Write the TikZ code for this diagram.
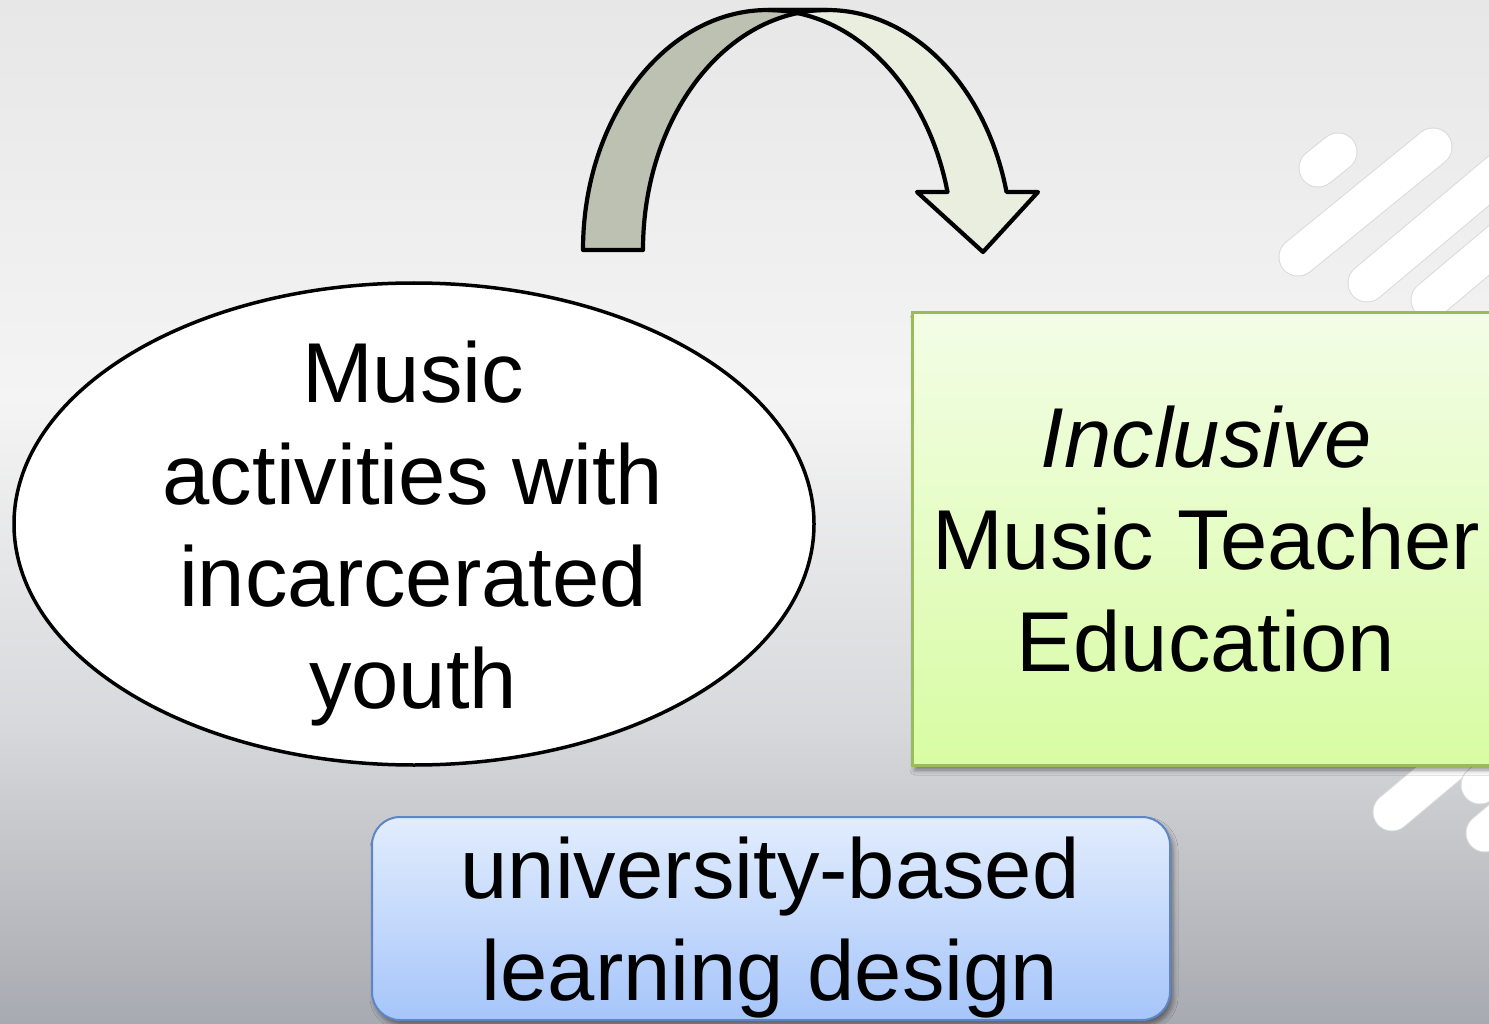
\documentclass[tikz,border=0pt]{standalone}
\usepackage{fontspec}
\setmainfont{Liberation Sans}
\usetikzlibrary{shapes.geometric,shadows.blur}
\definecolor{bgtop}{HTML}{E7E7E7}
\definecolor{bgmid}{HTML}{F4F4F4}
\definecolor{bglow}{HTML}{D8D9DC}
\definecolor{bgbot}{HTML}{A7AAB0}
\definecolor{darkband}{HTML}{BDC1B1}
\definecolor{lightband}{HTML}{EAEEDF}
\definecolor{greentop}{HTML}{F3FDE6}
\definecolor{greenbot}{HTML}{D8FCA3}
\definecolor{greenline}{HTML}{9BBB59}
\definecolor{bluetop}{HTML}{E2EDFD}
\definecolor{bluebot}{HTML}{A6C5FA}
\definecolor{blueline}{HTML}{5E86C6}
\definecolor{stripeedge}{HTML}{DADADA}
\begin{document}
\begin{tikzpicture}[x=1pt,y=1pt,
  bigtext/.style={font=\fontsize{85}{102}\selectfont, align=center, inner sep=0pt},
  boxshadow/.style={blur shadow={shadow xshift=3pt, shadow yshift=-5pt, shadow blur radius=5pt, shadow opacity=45}},
  arrowline/.style={line width=4.2pt, line join=round, draw=black}]
\useasboundingbox (0,0) rectangle (1489,-1024);
% background
\shade[top color=bgtop, bottom color=bgmid] (0,0) rectangle (1489,-401);
\shade[top color=bgmid, bottom color=bglow] (0,-400) rectangle (1489,-721);
\shade[top color=bglow, bottom color=bgbot] (0,-720) rectangle (1489,-1024);
% decorative stripes
\foreach \a/\b/\c/\d in {1318/-168/1338/-152, 1298/-257/1433/-147, 1367/-283/1560/-121, 1430/-300/1530/-216, 1392/-812/1460/-755, 1480/-785/1560/-718, 1485/-833/1560/-770} {
  \draw[line width=39pt, line cap=round, draw=stripeedge] (\a,\b) -- (\c,\d);
  \draw[line width=37pt, line cap=round, draw=white] (\a,\b) -- (\c,\d);
}
% curved arrow
\fill[darkband] (583,-250) arc[start angle=180, end angle=90, x radius=185pt, y radius=240pt] -- (827,-10) arc[start angle=90, end angle=180, x radius=184pt, y radius=240pt] -- cycle;
\fill[lightband] (827,-10) arc[start angle=90, end angle=14, x radius=185pt, y radius=240pt] -- (1038,-192) -- (983,-252) -- (917,-192) -- (947.5,-192) arc[start angle=14, end angle=90, x radius=185pt, y radius=240pt] -- cycle;
\draw[arrowline] (583,-250) arc[start angle=180, end angle=90, x radius=185pt, y radius=240pt] -- (827,-10) arc[start angle=90, end angle=180, x radius=184pt, y radius=240pt] -- cycle;
\draw[arrowline] (827,-10) arc[start angle=90, end angle=14, x radius=185pt, y radius=240pt] -- (1038,-192) -- (983,-252) -- (917,-192) -- (947.5,-192) arc[start angle=14, end angle=90, x radius=185pt, y radius=240pt] -- cycle;
% ellipse
\node[draw, ellipse, line width=3.5pt, fill=white, minimum width=800pt, minimum height=482pt, inner sep=0pt] (ell) at (414,-524) {};
\node[bigtext] (elltext) at (413,-534) {Music\\activities with\\incarcerated\\youth};
% green box
\node[draw=greenline, line width=3pt, top color=greentop, bottom color=greenbot, minimum width=588pt, minimum height=452pt, inner sep=0pt, boxshadow] (gbox) at (1206,-539) {};
\node[bigtext] (gtext) at (1206,-539) {\textit{Inclusive}\\Music Teacher\\Education};
% blue box
\node[draw=blueline, line width=2pt, rounded corners=28pt, top color=bluetop, bottom color=bluebot, minimum width=798pt, minimum height=203pt, inner sep=0pt, boxshadow] (bbox) at (771,-918.5) {};
\node[bigtext] (btext) at (770,-928) {university-based\\learning design};
\end{tikzpicture}
\end{document}
